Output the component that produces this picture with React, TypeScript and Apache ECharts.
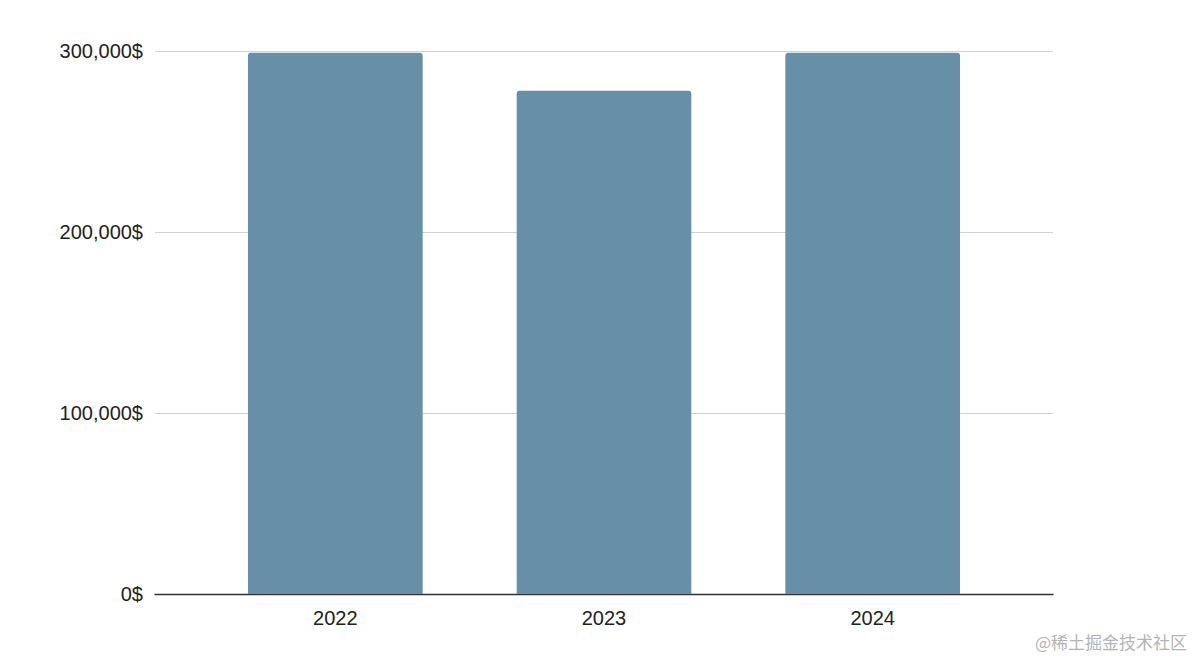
import React, { useEffect, useRef } from "react";
import * as echarts from "echarts";

const categories = ["2022", "2023", "2024"];
const revenue = [299000, 278000, 299000];
const yTicks = [0, 100000, 200000, 300000];

export default function App() {
  const ref = useRef<HTMLDivElement>(null);
  useEffect(() => {
    document.body.style.margin = "0";
    const chart = echarts.init(ref.current!, null, { renderer: "svg" });
    const yMin = yTicks[0];
    const yMax = yTicks[yTicks.length - 1];
    const yInt = yTicks[1] - yTicks[0];
    chart.setOption({
      animation: false,
      backgroundColor: "#ffffff",
      grid: [
        { left: 155, right: 142, top: 51, bottom: 67, containLabel: false },
        { left: 201, right: 188, top: 51, bottom: 67, containLabel: false },
      ],
      xAxis: [
        {
          gridIndex: 0,
          type: "category",
          data: [""],
          axisLine: { show: true, lineStyle: { color: "#333333", width: 1.3 } },
          axisTick: { show: false },
          axisLabel: { show: false },
        },
        {
          gridIndex: 1,
          type: "category",
          data: categories,
          axisLine: { show: false },
          axisTick: { show: false },
          axisLabel: {
            color: "#222222",
            fontFamily: "Liberation Sans, Arial, sans-serif",
            fontSize: 20,
            margin: 14,
          },
        },
      ],
      yAxis: [
        {
          gridIndex: 0,
          type: "value",
          min: yMin,
          max: yMax,
          interval: yInt,
          axisLine: { show: false },
          axisTick: { show: false },
          splitLine: { lineStyle: { color: "#cfd3d6", width: 1.2 } },
          axisLabel: {
            color: "#222222",
            fontFamily: "Liberation Sans, Arial, sans-serif",
            fontSize: 20,
            margin: 12,
            formatter: (v: number) => v.toLocaleString("en-US") + "$",
          },
        },
        {
          gridIndex: 1,
          type: "value",
          min: yMin,
          max: yMax,
          interval: yInt,
          show: false,
          splitLine: { show: false },
        },
      ],
      series: [
        {
          type: "bar",
          xAxisIndex: 1,
          yAxisIndex: 1,
          data: revenue,
          barWidth: "65%",
          itemStyle: { color: "#678fa7", borderRadius: [3, 3, 0, 0] },
        },
      ],
      graphic: [
        {
          type: "text",
          right: 8,
          top: 633,
          style: {
            text: "@稀土掘金技术社区",
            fill: "#b4b4b4",
            fontSize: 17,
            fontFamily: "Noto Sans CJK SC, sans-serif",
          },
        },
      ],
    });
    return () => chart.dispose();
  }, []);
  return (
    <div
      ref={ref}
      style={{ position: "absolute", left: 0, top: 0, width: 1195, height: 661 }}
    />
  );
}
